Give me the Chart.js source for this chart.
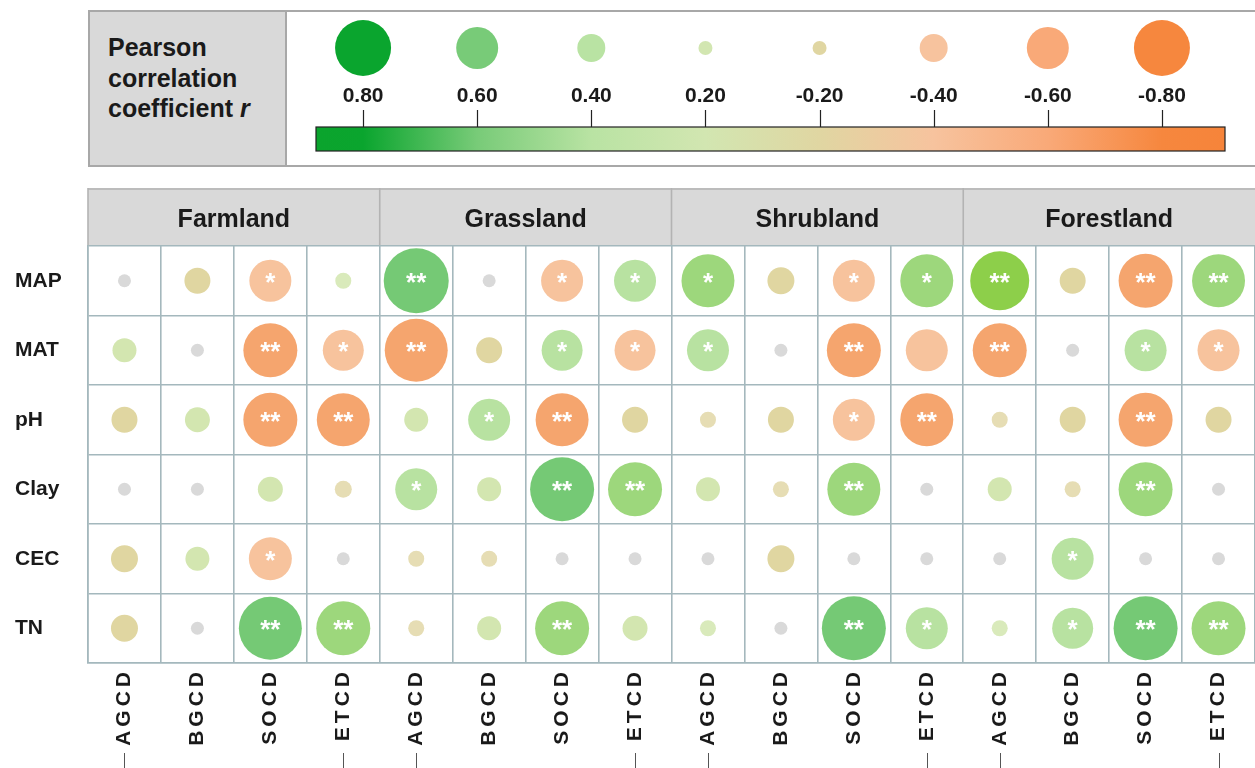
<!DOCTYPE html>
<html>
<head>
<meta charset="utf-8">
<title>Pearson correlation bubble matrix</title>
<script src="https://cdn.jsdelivr.net/npm/chart.js@4.4.1/dist/chart.umd.min.js"></script>
<style>
  body { margin: 0; width: 1255px; height: 768px; overflow: hidden; position: relative; background: #fff;
         font-family: "Liberation Sans", Arial, sans-serif; color: #1a1a1a; }
  #legendBox { position: absolute; left: 88px; top: 10px; width: 1175px; height: 157px;
               box-sizing: border-box; border: 2px solid #a8a8a8; }
  #legendTitle { position: absolute; left: 0; top: 0; width: 197px; height: 100%; box-sizing: border-box;
                 background: #d9d9d9; border-right: 2px solid #a8a8a8; padding: 20px 0 0 18px;
                 font-weight: bold; font-size: 25px; line-height: 30.5px; }
  #legendWrap { position: absolute; left: 285px; top: 10px; width: 970px; height: 157px; }
  #matrixWrap { position: absolute; left: 0; top: 188px; width: 1255px; height: 580px; }
</style>
</head>
<body>
<div id="legendBox">
  <div id="legendTitle">Pearson<br>correlation<br>coefficient <i>r</i></div>
</div>
<div id="legendWrap"><canvas id="legendChart"></canvas></div>
<div id="matrixWrap"><canvas id="matrixChart"></canvas></div>

<script>
// ---- data ----
const groups = ['Farmland', 'Grassland', 'Shrubland', 'Forestland'];
const responses = ['AGCD', 'BGCD', 'SOCD', 'ETCD'];
const factors = ['MAP', 'MAT', 'pH', 'Clay', 'CEC', 'TN'];

// r per column: Farmland x4, Grassland x4, Shrubland x4, Forestland x4
const rMAP  = [0.13, -0.26, -0.42, 0.16, 0.65, -0.13, -0.42, 0.42, 0.53, -0.27, -0.42, 0.53, 0.59, -0.26, -0.54, 0.53];
const rMAT  = [0.24, 0.13, -0.54, -0.41, -0.63, -0.26, 0.41, -0.41, 0.42, -0.13, -0.54, -0.42, -0.54, 0.13, 0.42, -0.42];
const rPH   = [-0.26, 0.25, -0.54, -0.53, 0.24, 0.42, -0.53, -0.26, -0.16, -0.26, -0.42, -0.53, -0.16, -0.26, -0.54, -0.26];
const rClay = [0.13, -0.13, 0.25, -0.17, 0.42, 0.24, 0.64, 0.54, 0.24, -0.16, 0.53, 0.13, 0.24, -0.16, 0.54, -0.13];
const rCEC  = [-0.27, 0.24, -0.43, 0.13, -0.16, -0.16, -0.13, 0.13, 0.13, -0.27, 0.13, -0.13, -0.13, 0.42, 0.13, 0.13];
const rTN   = [-0.27, 0.13, 0.63, 0.54, -0.16, 0.24, 0.54, 0.25, 0.16, -0.13, 0.64, 0.42, 0.16, 0.41, 0.64, 0.54];

// significance level: 1 = *, 2 = **
const sigMAP  = [0, 0, 1, 0, 2, 0, 1, 1, 1, 0, 1, 1, 2, 0, 2, 2];
const sigMAT  = [0, 0, 2, 1, 2, 0, 1, 1, 1, 0, 2, 0, 2, 0, 1, 1];
const sigPH   = [0, 0, 2, 2, 0, 1, 2, 0, 0, 0, 1, 2, 0, 0, 2, 0];
const sigClay = [0, 0, 0, 0, 1, 0, 2, 2, 0, 0, 2, 0, 0, 0, 2, 0];
const sigCEC  = [0, 0, 1, 0, 0, 0, 0, 0, 0, 0, 0, 0, 0, 1, 0, 0];
const sigTN   = [0, 0, 2, 2, 0, 0, 2, 0, 0, 0, 2, 1, 0, 1, 2, 2];

// legend scale
const legendValues = [0.8, 0.6, 0.4, 0.2, -0.2, -0.4, -0.6, -0.8];
const legendLabels = ['0.80', '0.60', '0.40', '0.20', '-0.20', '-0.40', '-0.60', '-0.80'];
const legendColours = ['#0aa52e', '#78cb78', '#b9e3a3', '#d2e6b1', '#e0d6a2', '#f7c39e', '#f9a978', '#f6873e'];

const rows = [rMAP, rMAT, rPH, rClay, rCEC, rTN];
const sigs = [sigMAP, sigMAT, sigPH, sigClay, sigCEC, sigTN];
const columnKeys = groups.flatMap(g => responses.map(r => g + ' ' + r));
const columnLabels = groups.flatMap(() => responses);

const FONT = '"Liberation Sans", Arial, sans-serif';
const GRID = '#a4b8bd';

// fill colour by r band
function bubbleColour(v) {
  if (v <= -0.48) return '#f5a56e';
  if (v <= -0.30) return '#f7c39d';
  if (v <= -0.20) return '#e0d6a1';
  if (v <= -0.14) return '#e6ddb4';
  if (v < 0.14) return '#d9d9d9';
  if (v < 0.20) return '#d9eabb';
  if (v < 0.30) return '#d3e6b0';
  if (v < 0.48) return '#b8e2a1';
  if (v < 0.56) return '#9dd77c';
  if (v < 0.62) return '#8dcf4a';
  return '#75c975';
}

// ---- legend ----
const colourBar = {
  id: 'colourBar',
  afterDraw(chart) {
    const { ctx, chartArea, scales: { x } } = chart;
    const left = chartArea.left + 10, right = chartArea.right + 6;
    const top = 117, h = 24;
    const grad = ctx.createLinearGradient(left, 0, right, 0);
    grad.addColorStop(0, '#0ba42d');
    legendValues.forEach((v, i) => {
      grad.addColorStop((x.getPixelForValue(i) - left) / (right - left), legendColours[i]);
    });
    grad.addColorStop(1, '#f6843a');
    ctx.save();
    ctx.fillStyle = grad;
    ctx.fillRect(left, top, right - left, h);
    ctx.strokeStyle = '#222';
    ctx.lineWidth = 1.2;
    ctx.strokeRect(left, top, right - left, h);
    ctx.beginPath();
    legendValues.forEach((v, i) => {
      const px = Math.round(x.getPixelForValue(i)) + 0.5;
      ctx.moveTo(px, top - 17);
      ctx.lineTo(px, top);
    });
    ctx.stroke();
    ctx.restore();
  }
};

new Chart(document.getElementById('legendChart'), {
  type: 'bubble',
  data: {
    datasets: [{
      data: legendValues.map((v, i) => ({ x: legendLabels[i], y: 0, r: 35 * Math.abs(v) })),
      backgroundColor: legendColours,
      borderWidth: 0,
      clip: false
    }]
  },
  options: {
    responsive: true,
    maintainAspectRatio: false,
    animation: false,
    events: [],
    layout: { autoPadding: false, padding: { left: 21, right: 36, top: 8, bottom: 39 } },
    plugins: { legend: { display: false }, tooltip: { enabled: false } },
    scales: {
      x: {
        type: 'category', labels: legendLabels, offset: true,
        grid: { display: false }, border: { display: false },
        ticks: { color: '#1a1a1a', font: { family: FONT, size: 21, weight: 'bold' }, padding: -2 },
        afterFit: s => { s.height = 50; }
      },
      y: { type: 'linear', min: -1, max: 1, display: false }
    }
  },
  plugins: [colourBar]
});

// ---- matrix ----
const points = [];
rows.forEach((vals, j) => {
  vals.forEach((v, i) => {
    points.push({ x: columnKeys[i], y: factors[j], r: 50 * Math.abs(v), v: v, sig: sigs[j][i] });
  });
});

const headerBand = {
  id: 'headerBand',
  beforeDraw(chart) {
    const { ctx, chartArea } = chart;
    const xg = chart.scales.xg;
    const w = (chartArea.right - chartArea.left) / groups.length;
    ctx.save();
    ctx.fillStyle = '#d9d9d9';
    ctx.fillRect(chartArea.left, 0, chartArea.right - chartArea.left, chartArea.top);
    ctx.strokeStyle = '#b3b3b3';
    ctx.lineWidth = 1.6;
    ctx.beginPath();
    ctx.moveTo(chartArea.left, 1);
    ctx.lineTo(chartArea.right, 1);
    groups.forEach((g, i) => {
      const px = xg.getPixelForValue(i) - w / 2;
      ctx.moveTo(px, 0);
      ctx.lineTo(px, chartArea.top);
    });
    ctx.stroke();
    ctx.restore();
  }
};

// column names are set with a little tracking
const spacedColumns = {
  id: 'spacedColumns',
  beforeDraw(chart) {
    const sc = chart.scales.x;
    if (sc._spaced) return;
    const drawLabels = sc.drawLabels.bind(sc);
    sc.drawLabels = area => {
      chart.ctx.save();
      chart.ctx.letterSpacing = '4px';
      drawLabels(area);
      chart.ctx.restore();
    };
    sc._spaced = true;
  }
};

const starLabels = {
  id: 'starLabels',
  afterDatasetsDraw(chart) {
    const { ctx } = chart;
    const meta = chart.getDatasetMeta(0);
    ctx.save();
    ctx.fillStyle = '#ffffff';
    ctx.font = 'bold 26px ' + FONT;
    ctx.textAlign = 'center';
    ctx.textBaseline = 'middle';
    meta.data.forEach((el, k) => {
      const s = points[k].sig;
      if (s) ctx.fillText('*'.repeat(s), el.x, el.y + 3);
    });
    ctx.restore();
  }
};

const groupTicks = {
  id: 'groupTicks',
  afterDraw(chart) {
    const { ctx, scales: { x } } = chart;
    const h = chart.height;
    ctx.save();
    ctx.strokeStyle = '#555';
    ctx.lineWidth = 1;
    ctx.beginPath();
    groups.forEach((g, k) => {
      [4 * k, 4 * k + 3].forEach(c => {
        const px = Math.round(x.getPixelForValue(c)) + 0.5;
        ctx.moveTo(px, h - 15);
        ctx.lineTo(px, h);
      });
    });
    ctx.stroke();
    ctx.restore();
  }
};

new Chart(document.getElementById('matrixChart'), {
  type: 'bubble',
  data: {
    datasets: [{
      data: points,
      backgroundColor: ctx => bubbleColour(ctx.raw.v),
      borderWidth: 0
    }]
  },
  options: {
    responsive: true,
    maintainAspectRatio: false,
    animation: false,
    events: [],
    layout: { autoPadding: false, padding: { left: 15, right: 0, top: 0, bottom: 0 } },
    plugins: { legend: { display: false }, tooltip: { enabled: false } },
    scales: {
      x: {
        type: 'category', labels: columnKeys, offset: true, position: 'bottom',
        grid: { offset: true, color: GRID, lineWidth: 1.6, drawTicks: false },
        border: { display: true, color: GRID, width: 1.6 },
        ticks: { color: '#1a1a1a', font: { family: FONT, size: 21, weight: 'bold' },
                 callback: (v, i) => columnLabels[i],
                 minRotation: 90, maxRotation: 90, autoSkip: false, padding: 5 },
        afterFit: s => { s.height = 105; }
      },
      xg: {
        type: 'category', axis: 'x', labels: groups, offset: true, position: 'top',
        grid: { display: false }, border: { display: false },
        ticks: { color: '#1a1a1a', font: { family: FONT, size: 25, weight: 'bold' }, padding: 3 },
        afterFit: s => { s.height = 58; }
      },
      y: {
        type: 'category', labels: factors, offset: true,
        grid: { offset: true, color: GRID, lineWidth: 1.6, drawTicks: false },
        border: { display: true, color: GRID, width: 1.6 },
        ticks: { color: '#1a1a1a', font: { family: FONT, size: 21, weight: 'bold' }, crossAlign: 'far', padding: 0 },
        afterFit: s => { s.width = 73; }
      }
    }
  },
  plugins: [headerBand, spacedColumns, starLabels, groupTicks]
});
</script>
</body>
</html>
